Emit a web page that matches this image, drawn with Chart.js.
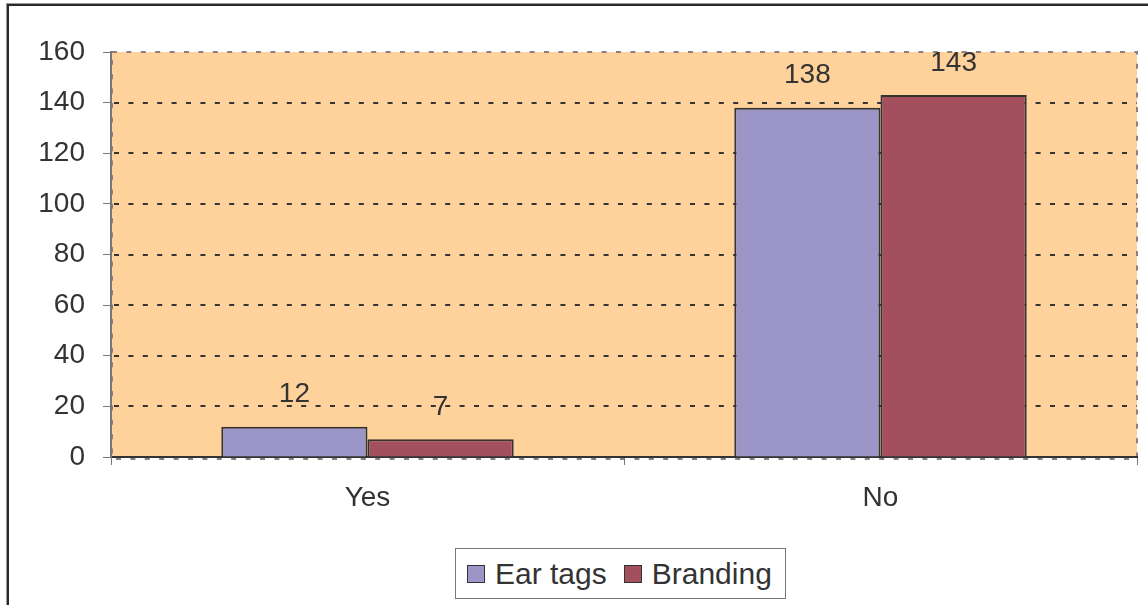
<!DOCTYPE html>
<html>
<head>
<meta charset="utf-8">
<script src="https://cdn.jsdelivr.net/npm/chart.js@4/dist/chart.umd.min.js"></script>
<style>
  body { margin: 0; background: #fff; }
  #wrap { position: relative; width: 1148px; height: 605px; overflow: hidden; font-family: "Liberation Sans", Arial, sans-serif; }
  #frame { position: absolute; left: 7px; top: 4px; width: 1200px; height: 700px; border-left: 2px solid #2a2a2a; border-top: 2px solid #2a2a2a; box-shadow: -1px -1px 0 #999; }
  #chartBox { position: absolute; left: 0; top: 0; width: 1148px; height: 605px; }
  #legend { position: absolute; left: 455px; top: 548px; height: 49px; border: 1px solid #777; background: #fff;
            display: flex; align-items: center; padding: 0 13px 0 11px; font-size: 30px; color: #333; white-space: nowrap; }
  #legend .sw { width: 16px; height: 16px; border: 1px solid #333; margin-right: 10px; }
  #legend .it { display: flex; align-items: center; }
  #legend .it + .it { margin-left: 17px; }
</style>
</head>
<body>
<div id="wrap">
  <div id="frame"></div>
  <div id="chartBox"><canvas id="myChart1"></canvas></div>
  <div id="legend"></div>
</div>
<script>
var categories = ['Yes', 'No'];
var earTags = [12, 138];
var branding = [7, 143];
var seriesNames = ['Ear tags', 'Branding'];
var seriesColors = ['#9b95c8', '#a34f5e'];

var fontFamily = '"Liberation Sans", Arial, sans-serif';

// orange plot background, dotted frame and dotted gridlines
var plotBack = {
    id : 'plotBack',
    beforeDraw : function(chart) {
        var ctx = chart.ctx, a = chart.chartArea, y = chart.scales.y;
        ctx.save();
        ctx.fillStyle = '#ffd29c';
        ctx.fillRect(a.left, a.top, a.right - a.left, a.bottom - a.top);

        ctx.lineWidth = 2;
        ctx.strokeStyle = '#333';
        ctx.setLineDash([5, 9.4]);
        y.ticks.forEach(function(t) {
            if (t.value <= y.min || t.value >= y.max) return;
            var py = Math.round(y.getPixelForValue(t.value));
            ctx.beginPath();
            ctx.moveTo(a.left + 3, py);
            ctx.lineTo(a.right, py);
            ctx.stroke();
        });

        ctx.strokeStyle = '#8a8080';
        ctx.beginPath();
        ctx.moveTo(a.left + 1, a.top);
        ctx.lineTo(a.right, a.top);
        ctx.lineTo(a.right, a.bottom + 2);
        ctx.lineTo(a.left + 1, a.bottom + 2);
        ctx.lineTo(a.left + 1, a.top);
        ctx.stroke();
        ctx.restore();
    }
};

// value written above each bar
var valueLabels = {
    id : 'valueLabels',
    afterDatasetsDraw : function(chart) {
        var ctx = chart.ctx;
        ctx.save();
        ctx.font = '28px ' + fontFamily;
        ctx.fillStyle = '#333';
        ctx.textAlign = 'center';
        ctx.textBaseline = 'middle';
        chart.data.datasets.forEach(function(ds, i) {
            chart.getDatasetMeta(i).data.forEach(function(bar, j) {
                ctx.fillText(ds.data[j], bar.x, bar.y - 32);
            });
        });
        ctx.restore();
    }
};

var data = {
    labels : categories,
    datasets : [{
        label : seriesNames[0],
        data : earTags,
        backgroundColor : seriesColors[0],
        borderColor : '#333',
        borderWidth : 2
    }, {
        label : seriesNames[1],
        data : branding,
        backgroundColor : seriesColors[1],
        borderColor : '#333',
        borderWidth : 2
    }]
};

var config = {
    type : 'bar',
    data : data,
    options : {
        responsive : true,
        maintainAspectRatio : false,
        animation : false,
        layout : { padding : { left : 0, right : 11, top : 52, bottom : 0 } },
        datasets : { bar : { barPercentage : 1, categoryPercentage : 0.57 } },
        plugins : {
            legend : { display : false },
            tooltip : { enabled : false }
        },
        scales : {
            x : {
                grid : { offset : true, drawOnChartArea : false, drawTicks : true, tickLength : 8, color : '#777' },
                border : { display : true, color : '#333', width : 2 },
                ticks : { color : '#333', padding : 16, font : { size : 28, family : fontFamily } },
                afterFit : function(scale) { scale.height = 148; }
            },
            y : {
                min : 0,
                max : 160,
                grid : { drawOnChartArea : false, drawTicks : true, tickLength : 8, color : '#777' },
                border : { display : true, color : '#777', width : 2 },
                ticks : { stepSize : 20, color : '#333', padding : 18, font : { size : 28, family : fontFamily } },
                afterFit : function(scale) { scale.width = 111; }
            }
        }
    },
    plugins : [plotBack, valueLabels]
};

var myChart = new Chart(document.getElementById('myChart1'), config);

// legend box under the chart
var legend = document.getElementById('legend');
seriesNames.forEach(function(name, i) {
    var it = document.createElement('div');
    it.className = 'it';
    var sw = document.createElement('div');
    sw.className = 'sw';
    sw.style.background = seriesColors[i];
    var tx = document.createElement('span');
    tx.textContent = name;
    it.appendChild(sw);
    it.appendChild(tx);
    legend.appendChild(it);
});
</script>
</body>
</html>
